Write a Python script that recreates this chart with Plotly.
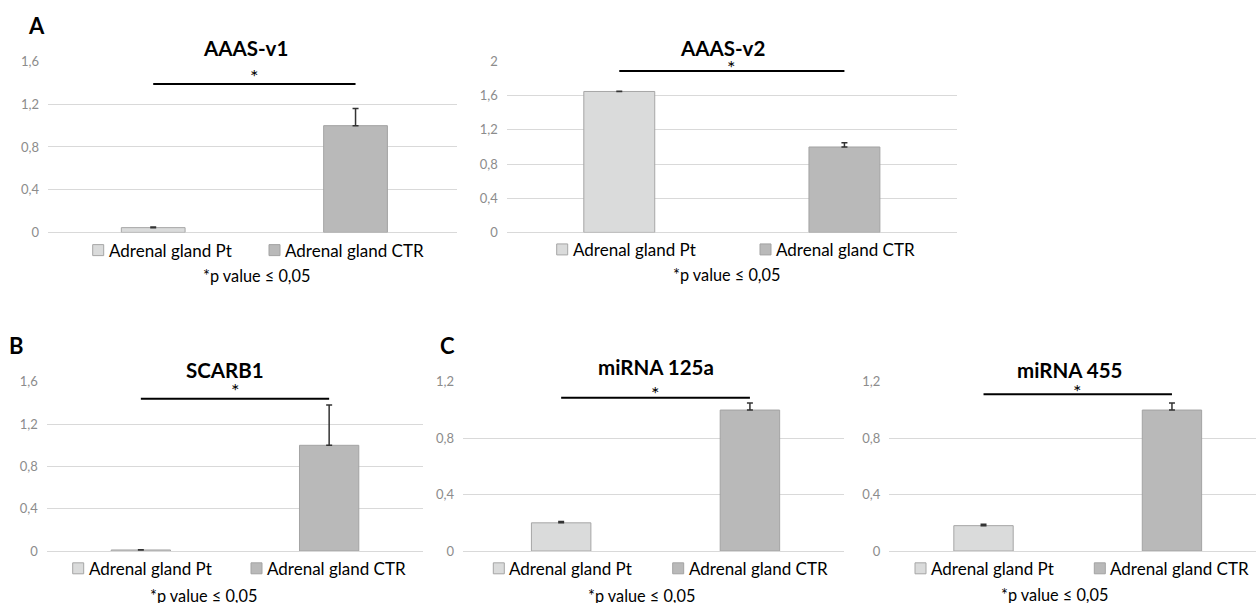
import plotly.graph_objects as go

W, H = 1256, 603
# The photograph maps page row y to 7.79 + 0.9742*y; draw on a canvas that compensates.
Y_S = 603 / 619
Y_B = 8 * 603 / 619
H_FIG = 611
FONT = "Lato"

# ---------------- data ----------------
titles = ["AAAS-v1", "AAAS-v2", "SCARB1", "miRNA 125a", "miRNA 455"]
series_names = ["Adrenal gland Pt", "Adrenal gland CTR"]
pt_values = [0.045, 1.65, 0.01, 0.20, 0.18]
pt_errors = [0.005, 0.004, 0.003, 0.01, 0.01]
ctr_values = [1.0, 1.0, 1.0, 1.0, 1.0]
ctr_errors = [0.16, 0.05, 0.38, 0.05, 0.05]
sig_heights = [1.39, 1.89, 1.44, 1.087, 1.113]
y_max = [1.6, 2.0, 1.6, 1.2, 1.2]
tick_vals = [[0, 0.4, 0.8, 1.2, 1.6],
             [0, 0.4, 0.8, 1.2, 1.6, 2.0],
             [0, 0.4, 0.8, 1.2, 1.6],
             [0, 0.4, 0.8, 1.2],
             [0, 0.4, 0.8, 1.2]]
tick_text = [["0", "0,4", "0,8", "1,2", "1,6"],
             ["0", "0,4", "0,8", "1,2", "1,6", "2"],
             ["0", "0,4", "0,8", "1,2", "1,6"],
             ["0", "0,4", "0,8", "1,2"],
             ["0", "0,4", "0,8", "1,2"]]
panel_letters = ["A", "B", "C"]
footnote = "*p value ≤ 0,05"

# ---------------- layout geometry (reference pixels) ----------------
plot_px = [  # left, right, top, bottom
    (48, 456.7, 61.3, 232.3),
    (506.7, 957, 61.3, 232.3),
    (46.7, 423.3, 381.7, 551),
    (463, 844.3, 381.7, 551),
    (889.3, 1256, 381.7, 551),
]
x_ranges = [[-0.52, 1.5], [-0.5, 1.5], [-0.5, 1.5], [-0.52, 1.5], [-0.5, 1.446]]
title_pos = [(245, 48), (722, 48), (225, 370), (656, 367), (1069, 370)]
star_y = [72, 63, 385.7, 389, 386.7]
legend_pos = [  # (pt square left, ctr square left, y center)
    (92.7, 269, 250),
    (556.7, 760, 249.3),
    (72.7, 251, 568.3),
    (493.3, 672.7, 568.3),
    (915, 1094.3, 568.3),
]
foot_pos = [(256.3, 275.3), (726.7, 274.3), (203.3, 595), (641.7, 595), (1054.7, 594.3)]
letter_pos = [(36, 25), (16.7, 345), (448, 345)]

PT_FILL, PT_LINE = "#dadbdb", "#a6a6a6"
CTR_FILL, CTR_LINE = "#b9b9b9", "#a3a3a3"
GRID = "#d9d9d9"


def px(x):
    return x / W


def py(y):
    y_page = (y - Y_B) / Y_S
    return 1 - y_page / H_FIG


fig = go.Figure()
annotations = []
shapes = []

for i in range(5):
    n = "" if i == 0 else str(i + 1)
    xa, ya = "x" + n, "y" + n
    fig.add_trace(go.Bar(
        x=[0], y=[pt_values[i]], width=[0.315], name=series_names[0],
        marker=dict(color=PT_FILL, line=dict(color=PT_LINE, width=1)),
        error_y=dict(type="data", symmetric=False, array=[pt_errors[i]], arrayminus=[0],
                     color="#333333", thickness=1.5, width=3),
        xaxis=xa, yaxis=ya, showlegend=False))
    fig.add_trace(go.Bar(
        x=[1], y=[ctr_values[i]], width=[0.315], name=series_names[1],
        marker=dict(color=CTR_FILL, line=dict(color=CTR_LINE, width=1)),
        error_y=dict(type="data", symmetric=False, array=[ctr_errors[i]], arrayminus=[0],
                     color="#333333", thickness=1.5, width=3),
        xaxis=xa, yaxis=ya, showlegend=False))

    l, r, t, b = plot_px[i]
    fig.layout["xaxis" + n] = dict(
        domain=[px(l), px(r)], range=x_ranges[i], anchor=ya,
        showgrid=False, zeroline=False, showticklabels=False, showline=False, fixedrange=True)
    fig.layout["yaxis" + n] = dict(
        domain=[py(b), py(t)], range=[0, y_max[i] * 1.0005], anchor=xa,
        tickvals=tick_vals[i], ticktext=tick_text[i],
        showgrid=True, gridcolor=GRID, gridwidth=1,
        zeroline=True, zerolinecolor=GRID, zerolinewidth=1,
        showline=False, ticks="", ticklabelstandoff=8,
        tickfont=dict(family=FONT, size=13, color="#8c8c8c"), fixedrange=True)

    # significance bar
    shapes.append(dict(type="line", xref=xa, yref=ya, x0=0, x1=1,
                       y0=sig_heights[i], y1=sig_heights[i],
                       line=dict(color="black", width=2)))
    annotations.append(dict(text="*", xref=xa, yref="paper", x=0.5, y=py(star_y[i] + 4),
                            showarrow=False, xanchor="center", yanchor="middle",
                            font=dict(family=FONT, size=20, color="black")))
    # title
    tx, ty = title_pos[i]
    annotations.append(dict(text="<b>" + titles[i] + "</b>", xref="paper", yref="paper",
                            x=px(tx), y=py(ty), showarrow=False, xanchor="center", yanchor="middle",
                            font=dict(family=FONT, size=20.5, color="black")))
    # legend
    sq_pt, sq_ctr, ly = legend_pos[i]
    for sx, fill, line, name in [(sq_pt, PT_FILL, PT_LINE, series_names[0]),
                                 (sq_ctr, CTR_FILL, CTR_LINE, series_names[1])]:
        shapes.append(dict(type="rect", xref="paper", yref="paper",
                           x0=px(sx), x1=px(sx + 11), y0=py(ly + 5.5), y1=py(ly - 5.5),
                           fillcolor=fill, line=dict(color=line, width=1)))
        annotations.append(dict(text=name, xref="paper", yref="paper",
                                x=px(sx + 14), y=py(ly), showarrow=False,
                                xanchor="left", yanchor="middle",
                                font=dict(family=FONT, size=17, color="black")))
    # footnote
    fx, fy = foot_pos[i]
    annotations.append(dict(text=footnote, xref="paper", yref="paper", x=px(fx), y=py(fy),
                            showarrow=False, xanchor="center", yanchor="middle",
                            font=dict(family=FONT, size=16.3, color="black")))

for letter, (lx, ly) in zip(panel_letters, letter_pos):
    annotations.append(dict(text="<b>" + letter + "</b>", xref="paper", yref="paper",
                            x=px(lx), y=py(ly), showarrow=False, xanchor="center", yanchor="middle",
                            font=dict(family=FONT, size=22, color="black")))

fig.update_layout(
    width=W, height=H_FIG, margin=dict(l=0, r=0, t=0, b=0),
    paper_bgcolor="white", plot_bgcolor="white",
    barmode="overlay", showlegend=False,
    annotations=annotations, shapes=shapes,
    font=dict(family=FONT),
)

page_fix = (
    "document.documentElement.style.margin='0';document.documentElement.style.padding='0';"
    "document.documentElement.style.overflow='hidden';"
    "document.body.style.margin='0';document.body.style.padding='0';"
    "document.body.style.overflow='hidden';"
)

fig.write_html("out.html", config={"displayModeBar": False}, post_script=page_fix)
